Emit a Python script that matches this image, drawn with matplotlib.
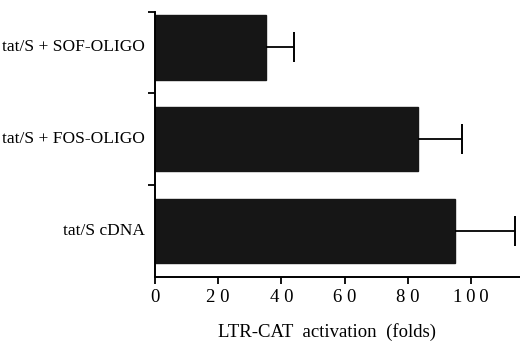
import matplotlib.pyplot as plt

# data (bottom to top)
labels = ["tat/S cDNA", "tat/S + FOS-OLIGO", "tat/S + SOF-OLIGO"]
values = [95, 83.3, 35.1]
errors = [19, 13.9, 8.8]
xticks = [0, 20, 40, 60, 80, 100]
xticklabels = ["0", "2 0", "4 0", "6 0", "8 0", "1\u20090\u20090"]

plt.rcParams["font.family"] = ["Liberation Serif", "DejaVu Serif"]

fig = plt.figure(figsize=(5.2, 3.44), dpi=100)
ax = fig.add_axes([0.298, 0.195, 0.702, 0.771])

pos = list(range(len(labels)))
ax.barh(pos, values, height=0.70, color="#161616", edgecolor="#161616")
# one-sided error bars: line from bar end, cap only at the far end
ends = [v + e for v, e in zip(values, errors)]
ax.hlines(pos, values, ends, color="black", linewidth=1.3)
ax.plot(ends, pos, linestyle="none", marker="|", markersize=22,
        markeredgewidth=1.4, color="black")

ax.set_xlim(0, 115.5)
ax.set_ylim(-0.5, 2.39)
ax.set_xticks(xticks)
ax.set_xticklabels(xticklabels, fontsize=13.5)
ax.set_yticks([0.5, 1.5, 2.39])
ax.set_yticklabels([])
for p, lab in zip(pos, labels):
    ax.text(-0.028, p, lab, transform=ax.get_yaxis_transform(),
            ha="right", va="center", fontsize=12.5)

ax.spines["top"].set_visible(False)
ax.spines["right"].set_visible(False)
ax.spines["left"].set_linewidth(1.4)
ax.spines["bottom"].set_linewidth(1.4)
ax.tick_params(axis="both", direction="out", length=5, width=1.3)
ax.tick_params(axis="x", pad=4)

ax.set_xlabel("LTR-CAT  activation  (folds)", fontsize=13.5)
ax.xaxis.set_label_coords(0.471, -0.175)

fig.savefig("out.png", dpi=100)
